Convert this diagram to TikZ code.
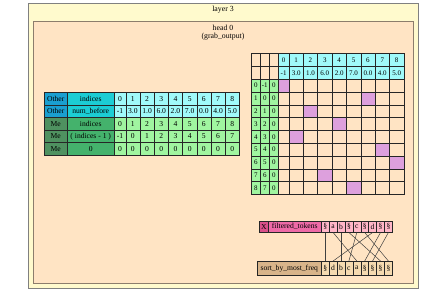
\documentclass[tikz,border=0pt]{standalone}
\usepackage{fontspec}
\setmainfont{Liberation Serif}
\usepackage{xcolor}
\usepackage{tikz}
\definecolor{layerbg}{HTML}{FFFACD}
\definecolor{headbg}{HTML}{FFE4C4}
\definecolor{otherdark}{HTML}{1A9FD0}
\definecolor{othermid}{HTML}{1CCDD4}
\definecolor{otherlight}{HTML}{A0FAFA}
\definecolor{medark}{HTML}{4F9160}
\definecolor{memid}{HTML}{44B26C}
\definecolor{melight}{HTML}{A0F5A0}
\definecolor{attn}{HTML}{DDA0DD}
\definecolor{tokdark}{HTML}{D9508A}
\definecolor{tokmid}{HTML}{EE6AA7}
\definecolor{toklight}{HTML}{FFB6C8}
\definecolor{sortmid}{HTML}{D8B48A}
\definecolor{sortlight}{HTML}{F5DAB0}
\usetikzlibrary{positioning}

\begin{document}
\begin{tikzpicture}[
    x=1pt, y=-1pt,
    frame/.style={line width=0.8pt},
    title/.style={font=\fontsize{7.8}{8.5}\selectfont, inner sep=0pt},
    cell/.style={draw=black!85, line width=0.5pt, inner sep=0pt, anchor=north west, font=\fontsize{7.6}{8}\selectfont},
    mcell/.style={cell, font=\fontsize{7}{7.5}\selectfont},
    link/.style={draw=black!75, line width=0.5pt}
]
    \useasboundingbox (0,0) rectangle (423,294);

    % Frames
    \draw[frame, draw=gray, fill=layerbg] (28,3) rectangle (418,288);
    \draw[frame, draw=black!45!headbg, fill=headbg] (33,21) rectangle (413,283);
    \node[title] (layer) at (223,10) {layer 3};
    \node[title] (head) at (223,28) {head 0};
    \node[title, below=1.5pt of head] (prog) {(grab\_output)};

    % Left table
    \node[cell, fill=otherdark, minimum width=23pt, minimum height=12.6pt] (who-0) at (44,92) {Other};
    \node[cell, fill=othermid, minimum width=47pt, minimum height=12.6pt] (what-0) at (67,92) {indices};
    \node[cell, fill=otherdark, minimum width=23pt, minimum height=12.6pt] (who-1) at (44,104.6) {Other};
    \node[cell, fill=othermid, minimum width=47pt, minimum height=12.6pt] (what-1) at (67,104.6) {num\_before};
    \node[cell, fill=medark, minimum width=23pt, minimum height=12.6pt] (who-2) at (44,117.2) {Me};
    \node[cell, fill=memid, minimum width=47pt, minimum height=12.6pt] (what-2) at (67,117.2) {indices};
    \node[cell, fill=medark, minimum width=23pt, minimum height=12.6pt] (who-3) at (44,129.8) {Me};
    \node[cell, fill=memid, minimum width=47pt, minimum height=12.6pt] (what-3) at (67,129.8) {( indices - 1 )};
    \node[cell, fill=medark, minimum width=23pt, minimum height=12.6pt] (who-4) at (44,142.4) {Me};
    \node[cell, fill=memid, minimum width=47pt, minimum height=12.6pt] (what-4) at (67,142.4) {0};

    \foreach \r/\vals/\col in {0/{0,1,2,3,4,5,6,7,8}/otherlight,
                               1/{-1,3.0,1.0,6.0,2.0,7.0,0.0,4.0,5.0}/otherlight,
                               2/{0,1,2,3,4,5,6,7,8}/melight,
                               3/{-1,0,1,2,3,4,5,6,7}/melight,
                               4/{0,0,0,0,0,0,0,0,0}/melight} {
        \foreach \v [count=\k from 0] in \vals {
            \pgfmathsetmacro\xk{114+14.2*\k-(\k>0)*2.7}
            \pgfmathsetmacro\wk{14.2-(\k==0)*2.7}
            \node[cell, fill=\col, minimum width=\wk pt, minimum height=12.6pt] (tbl-\r-\k) at (\xk,92+12.6*\r) {\v};
        }
    }

    % Attention matrix
    \foreach \c in {0,1,2} {
        \node[mcell, fill=headbg, minimum width=9pt, minimum height=13pt] (corner-0-\c) at (251+9*\c,53) {};
        \node[mcell, fill=headbg, minimum width=9pt, minimum height=13pt] (corner-1-\c) at (251+9*\c,66) {};
    }
    \foreach \v [count=\k from 0] in {0,1,2,3,4,5,6,7,8} {
        \pgfmathsetmacro\xk{278+14.36*\k-(\k>0)*3.66}
        \pgfmathsetmacro\wk{14.36-(\k==0)*3.66}
        \node[mcell, fill=otherlight, minimum width=\wk pt, minimum height=13pt] (key-\k) at (\xk,53) {\v};
    }
    \foreach \v [count=\k from 0] in {-1,3.0,1.0,6.0,2.0,7.0,0.0,4.0,5.0} {
        \pgfmathsetmacro\xk{278+14.36*\k-(\k>0)*3.66}
        \pgfmathsetmacro\wk{14.36-(\k==0)*3.66}
        \node[mcell, fill=otherlight, minimum width=\wk pt, minimum height=13pt] (num-\k) at (\xk,66) {\v};
    }
    \foreach \q/\sel in {0/0,1/6,2/2,3/4,4/1,5/7,6/8,7/3,8/5} {
        \pgfmathtruncatemacro\qm{\q-1}
        \node[mcell, fill=melight, minimum width=9pt, minimum height=12.8pt] (qa-\q) at (251,79+12.8*\q) {\q};
        \node[mcell, fill=melight, minimum width=9pt, minimum height=12.8pt] (qb-\q) at (260,79+12.8*\q) {\qm};
        \node[mcell, fill=melight, minimum width=9pt, minimum height=12.8pt] (qc-\q) at (269,79+12.8*\q) {0};
        \foreach \k in {0,...,8} {
            \ifnum\k=\sel \def\cfill{attn}\else\def\cfill{headbg}\fi
            \pgfmathsetmacro\xk{278+14.36*\k-(\k>0)*3.66}
            \pgfmathsetmacro\wk{14.36-(\k==0)*3.66}
            \node[mcell, fill=\cfill, minimum width=\wk pt, minimum height=12.8pt] (att-\q-\k) at (\xk,79+12.8*\q) {};
        }
    }

    % Tokens
    \node[cell, fill=tokdark, minimum width=9pt, minimum height=11pt] (tokx) at (259,221) {X};
    \node[cell, fill=tokmid, minimum width=53pt, minimum height=11pt] (toklabel) at (268,221) {filtered\_tokens};
    \foreach \t [count=\i from 0] in {\S,a,b,\S,c,\S,d,\S,\S}
        \node[cell, fill=toklight, minimum width=7.9pt, minimum height=11pt] (tok-\i) at (321+7.9*\i,221) {\t};

    \node[cell, fill=sortmid, minimum width=64pt, minimum height=14pt] (srtlabel) at (257,261) {sort\_by\_most\_freq};
    \foreach \t [count=\i from 0] in {\S,d,b,c,a,\S,\S,\S,\S}
        \node[cell, fill=sortlight, minimum width=7.9pt, minimum height=14pt] (srt-\i) at (321+7.9*\i,261) {\t};

    \foreach \i/\j in {0/0,6/1,2/2,4/3,1/4,7/5,8/6,3/7,5/8}
        \draw[link] (tok-\i.south) -- (srt-\j.north);
\end{tikzpicture}
\end{document}
